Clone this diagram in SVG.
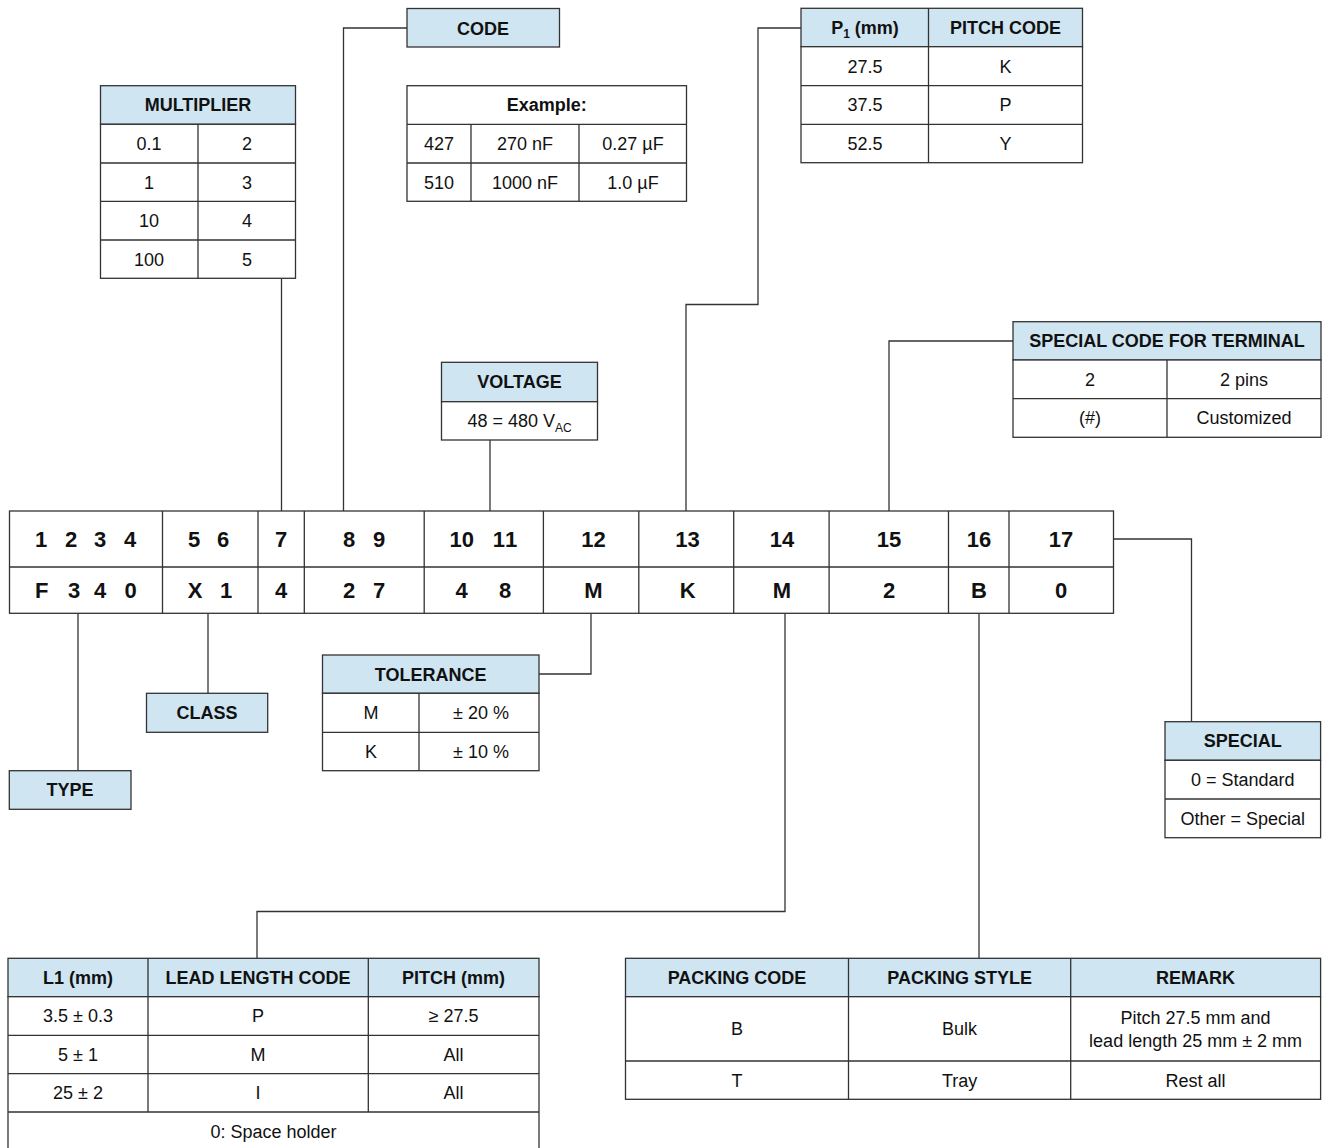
<svg xmlns="http://www.w3.org/2000/svg" width="1323" height="1148" viewBox="0 0 1323 1148">
<style>
.bg{fill:#ffffff}
.cell{fill:#ffffff;stroke:#333333;stroke-width:1.3}
.hd{fill:#cfe5f2;stroke:#333333;stroke-width:1.3}
.ln{fill:none;stroke:#333333;stroke-width:1.3}
.conn{fill:none;stroke:#333333;stroke-width:1.3}
text{font-family:"Liberation Sans",Arial,Helvetica,sans-serif;fill:#111111;text-anchor:middle}
.t{font-size:18px}
.tb{font-size:18px;font-weight:bold}
.m{font-size:22px;font-weight:bold}
.sub{font-size:12px}
</style>
<rect class="bg" x="0" y="0" width="1323" height="1148"/>

<g id="connectors">
<path class="conn" d="M281.5,278.3 V511"/>
<path class="conn" d="M407,28 H343.5 V511"/>
<path class="conn" d="M490,440 V511"/>
<path class="conn" d="M801,28 H758 V304.5 H686 V511"/>
<path class="conn" d="M1013,341 H889 V511"/>
<path class="conn" d="M1113.5,539 H1191.5 V721.7"/>
<path class="conn" d="M78,613.3 V770.7"/>
<path class="conn" d="M208,613.3 V693.3"/>
<path class="conn" d="M591,613.3 V674 H539"/>
<path class="conn" d="M785,613.3 V911.5 H257 V958.3"/>
<path class="conn" d="M979,613.3 V958.3"/>
</g>

<g id="code">
<rect class="hd" x="407" y="8.5" width="152.5" height="38.5"/>
<text class="tb" x="483" y="34.5">CODE</text>
</g>

<g id="multiplier">
<rect class="hd" x="100.5" y="85.7" width="195" height="38.6"/>
<rect class="cell" x="100.5" y="124.3" width="195" height="154"/>
<path class="ln" d="M100.5,163 H295.5 M100.5,201.3 H295.5 M100.5,240 H295.5 M198,124.3 V278.3"/>
<text class="tb" x="198" y="111.3">MULTIPLIER</text>
<text class="t" x="149" y="150">0.1</text><text class="t" x="247" y="150">2</text>
<text class="t" x="149" y="188.5">1</text><text class="t" x="247" y="188.5">3</text>
<text class="t" x="149" y="227">10</text><text class="t" x="247" y="227">4</text>
<text class="t" x="149" y="265.5">100</text><text class="t" x="247" y="265.5">5</text>
</g>

<g id="example">
<rect class="cell" x="407" y="85.7" width="279.5" height="115.6"/>
<path class="ln" d="M407,124.3 H686.5 M407,163 H686.5 M471,124.3 V201.3 M579,124.3 V201.3"/>
<text class="tb" x="546.7" y="111.3">Example:</text>
<text class="t" x="439" y="150">427</text><text class="t" x="525" y="150">270 nF</text><text class="t" x="633" y="150">0.27 µF</text>
<text class="t" x="439" y="188.5">510</text><text class="t" x="525" y="188.5">1000 nF</text><text class="t" x="633" y="188.5">1.0 µF</text>
</g>

<g id="pitch-code">
<rect class="hd" x="801" y="8.3" width="281.5" height="38.4"/>
<rect class="cell" x="801" y="46.7" width="281.5" height="116"/>
<path class="ln" d="M801,85.7 H1082.5 M801,124.3 H1082.5 M928.5,8.3 V162.7"/>
<text class="tb" x="865" y="34.3">P<tspan class="sub" dy="4">1</tspan><tspan dy="-4"> (mm)</tspan></text>
<text class="tb" x="1005.5" y="34.3">PITCH CODE</text>
<text class="t" x="865" y="72.5">27.5</text><text class="t" x="1005.5" y="72.5">K</text>
<text class="t" x="865" y="111">37.5</text><text class="t" x="1005.5" y="111">P</text>
<text class="t" x="865" y="149.8">52.5</text><text class="t" x="1005.5" y="149.8">Y</text>
</g>

<g id="special-code-terminal">
<rect class="hd" x="1013" y="321.7" width="308" height="38.3"/>
<rect class="cell" x="1013" y="360" width="308" height="77.3"/>
<path class="ln" d="M1013,398.7 H1321 M1167,360 V437.3"/>
<text class="tb" x="1167" y="347.3">SPECIAL CODE FOR TERMINAL</text>
<text class="t" x="1090" y="385.6">2</text><text class="t" x="1244" y="385.6">2 pins</text>
<text class="t" x="1090" y="424.3">(#)</text><text class="t" x="1244" y="424.3">Customized</text>
</g>

<g id="voltage">
<rect class="hd" x="441.5" y="362.3" width="156" height="39.4"/>
<rect class="cell" x="441.5" y="401.7" width="156" height="38.3"/>
<text class="tb" x="519.5" y="388.3">VOLTAGE</text>
<text class="t" x="519.5" y="427">48 = 480 V<tspan class="sub" dy="5">AC</tspan></text>
</g>

<g id="main-code">
<rect class="cell" x="9.5" y="511" width="1104" height="102.3"/>
<path class="ln" d="M9.5,567 H1113.5 M162.5,511 V613.3 M258,511 V613.3 M304.3,511 V613.3 M424.2,511 V613.3 M543.4,511 V613.3 M638.8,511 V613.3 M733.7,511 V613.3 M829.1,511 V613.3 M948.5,511 V613.3 M1009,511 V613.3"/>
<text class="m" x="41 56 71 85.5 100 115 130" y="547">1 2 3 4</text>
<text class="m" x="194 208.5 223" y="547">5 6</text>
<text class="m" x="281" y="547">7</text>
<text class="m" x="349 364 379" y="547">8 9</text>
<text class="m" x="455.6 467.8 483 498.9 511.1" y="547">10 11</text>
<text class="m" x="593.4" y="547">12</text>
<text class="m" x="687.6" y="547">13</text>
<text class="m" x="782" y="547">14</text>
<text class="m" x="889" y="547">15</text>
<text class="m" x="979" y="547">16</text>
<text class="m" x="1061" y="547">17</text>
<text class="m" x="41.7 57 74 87 100 115 130.7" y="598">F 3 4 0</text>
<text class="m" x="195 210 226" y="598">X 1</text>
<text class="m" x="281" y="598">4</text>
<text class="m" x="349 364 379" y="598">2 7</text>
<text class="m" x="461.7 483 505" y="598">4 8</text>
<text class="m" x="593.4" y="598">M</text>
<text class="m" x="687.6" y="598">K</text>
<text class="m" x="782" y="598">M</text>
<text class="m" x="889" y="598">2</text>
<text class="m" x="979" y="598">B</text>
<text class="m" x="1061" y="598">0</text>
</g>

<g id="type">
<rect class="hd" x="9.3" y="770.7" width="121.7" height="38.6"/>
<text class="tb" x="70" y="796.3">TYPE</text>
</g>

<g id="class">
<rect class="hd" x="146.5" y="693.3" width="121.2" height="39"/>
<text class="tb" x="207" y="719">CLASS</text>
</g>

<g id="tolerance">
<rect class="hd" x="322.5" y="655" width="216.5" height="38.3"/>
<rect class="cell" x="322.5" y="693.3" width="216.5" height="77.4"/>
<path class="ln" d="M322.5,732.3 H539 M419,693.3 V770.7"/>
<text class="tb" x="430.7" y="680.5">TOLERANCE</text>
<text class="t" x="371" y="719">M</text><text class="t" x="481" y="719">± 20 %</text>
<text class="t" x="371" y="757.8">K</text><text class="t" x="481" y="757.8">± 10 %</text>
</g>

<g id="special">
<rect class="hd" x="1165" y="721.7" width="155.6" height="38.6"/>
<rect class="cell" x="1165" y="760.3" width="155.6" height="77.4"/>
<path class="ln" d="M1165,799 H1320.6"/>
<text class="tb" x="1242.8" y="747.3">SPECIAL</text>
<text class="t" x="1242.8" y="786">0 = Standard</text>
<text class="t" x="1242.8" y="824.6">Other = Special</text>
</g>

<g id="lead-length">
<rect class="hd" x="8" y="958.3" width="531" height="38.4"/>
<rect class="cell" x="8" y="996.7" width="531" height="153.8"/>
<path class="ln" d="M8,1035.3 H539 M8,1073.7 H539 M8,1112 H539 M148,958.3 V1112 M368.3,958.3 V1112"/>
<text class="tb" x="78" y="984">L1 (mm)</text>
<text class="tb" x="258" y="984">LEAD LENGTH CODE</text>
<text class="tb" x="453.6" y="984">PITCH (mm)</text>
<text class="t" x="78" y="1022.3">3.5 ± 0.3</text><text class="t" x="258" y="1022.3">P</text><text class="t" x="453.6" y="1022.3">≥ 27.5</text>
<text class="t" x="78" y="1060.8">5 ± 1</text><text class="t" x="258" y="1060.8">M</text><text class="t" x="453.6" y="1060.8">All</text>
<text class="t" x="78" y="1099.2">25 ± 2</text><text class="t" x="258" y="1099.2">I</text><text class="t" x="453.6" y="1099.2">All</text>
<text class="t" x="273.5" y="1137.5">0: Space holder</text>
</g>

<g id="packing">
<rect class="hd" x="625.5" y="958.3" width="695.1" height="38.4"/>
<rect class="cell" x="625.5" y="996.7" width="695.1" height="102.6"/>
<path class="ln" d="M625.5,1061 H1320.6 M848.5,958.3 V1099.3 M1070.7,958.3 V1099.3"/>
<text class="tb" x="737" y="984">PACKING CODE</text>
<text class="tb" x="959.6" y="984">PACKING STYLE</text>
<text class="tb" x="1195.6" y="984">REMARK</text>
<text class="t" x="737" y="1035">B</text><text class="t" x="959.6" y="1035">Bulk</text>
<text class="t" x="1195.6" y="1023.5">Pitch 27.5 mm and</text>
<text class="t" x="1195.6" y="1046.5">lead length 25 mm ± 2 mm</text>
<text class="t" x="737" y="1086.5">T</text><text class="t" x="959.6" y="1086.5">Tray</text><text class="t" x="1195.6" y="1086.5">Rest all</text>
</g>
</svg>
